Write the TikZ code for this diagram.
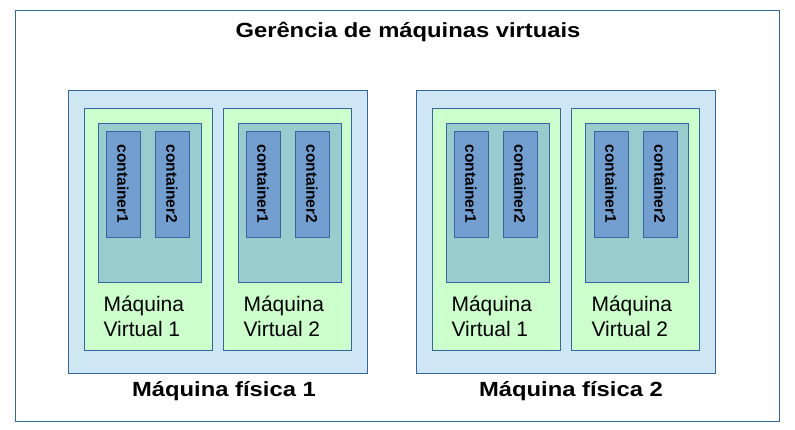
\documentclass[tikz,border=0pt]{standalone}
\usepackage{fontspec}
\setmainfont{Liberation Sans}
\definecolor{borda}{HTML}{3465A4}
\definecolor{azulClaro}{HTML}{CFE7F5}
\definecolor{verdeClaro}{HTML}{CCFFCC}
\definecolor{verdeAzul}{HTML}{99CCCC}
\definecolor{azulContainer}{HTML}{729FCF}
\newcommand{\largo}[1]{\scalebox{1.16}[1]{#1}}
\tikzset{
	caixa/.style={draw=borda, rectangle, line width=0.8pt, inner sep=0pt},
	fisica/.style={caixa, fill=azulClaro, minimum width=299, minimum height=283},
	virtual/.style={caixa, fill=verdeClaro, minimum width=128, minimum height=242},
	sistema/.style={caixa, fill=verdeAzul, minimum width=103, minimum height=159},
	container/.style={caixa, fill=azulContainer, minimum width=34, minimum height=106},
	rotulo/.style={rotate=-90, font=\fontsize{15.5}{17}\selectfont\bfseries},
	rotuloVM/.style={anchor=west, align=left, font=\fontsize{21}{25}\selectfont},
	rotuloFisica/.style={font=\fontsize{20.5}{24}\selectfont\bfseries}
}
\begin{document}
\begin{tikzpicture}[x=1pt, y=-1pt]
			\useasboundingbox (0,0) rectangle (795,430);
			
			%Gerencia
			\node (gerencia) at (397,215.5) [caixa, minimum width=764, minimum height=411]{};
			\node (titulo) at (408,32) [rotuloFisica]{\largo{Gerência de máquinas virtuais}};
			
			%Maquinas fisicas
			\node (fisica1) at (217.5,231.5) [fisica]{};
			\node (fisica2) at (565.5,231.5) [fisica]{};
			\node (nomeFisica1) at (224,391) [rotuloFisica]{\largo{Máquina física 1}};
			\node (nomeFisica2) at (571,391) [rotuloFisica]{\largo{Máquina física 2}};
			
			%Maquinas virtuais
			\node (vm11) at (148,229) [virtual]{};
			\node (vm12) at (287.5,229) [virtual]{};
			\node (vm21) at (496,229) [virtual]{};
			\node (vm22) at (635,229) [virtual]{};
			\node (nomeVm11) at (100,316) [rotuloVM]{Máquina\\Virtual 1};
			\node (nomeVm12) at (240,316) [rotuloVM]{Máquina\\Virtual 2};
			\node (nomeVm21) at (448,316) [rotuloVM]{Máquina\\Virtual 1};
			\node (nomeVm22) at (588,316) [rotuloVM]{Máquina\\Virtual 2};
			
			%Sistemas das VMs
			\node (so11) at (149.5,202.5) [sistema]{};
			\node (so12) at (289.5,202.5) [sistema]{};
			\node (so21) at (497.5,202.5) [sistema]{};
			\node (so22) at (636.5,202.5) [sistema]{};
			
			%Containers
			\node (c111) at (123,184) [container]{};
			\node (c112) at (172,184) [container]{};
			\node (c121) at (263,184) [container]{};
			\node (c122) at (312,184) [container]{};
			\node (c211) at (471,184) [container]{};
			\node (c212) at (520,184) [container]{};
			\node (c221) at (611,184) [container]{};
			\node (c222) at (660,184) [container]{};
			\node at (c111) [rotulo]{container1};
			\node at (c112) [rotulo]{container2};
			\node at (c121) [rotulo]{container1};
			\node at (c122) [rotulo]{container2};
			\node at (c211) [rotulo]{container1};
			\node at (c212) [rotulo]{container2};
			\node at (c221) [rotulo]{container1};
			\node at (c222) [rotulo]{container2};
			
			\end{tikzpicture}
\end{document}
